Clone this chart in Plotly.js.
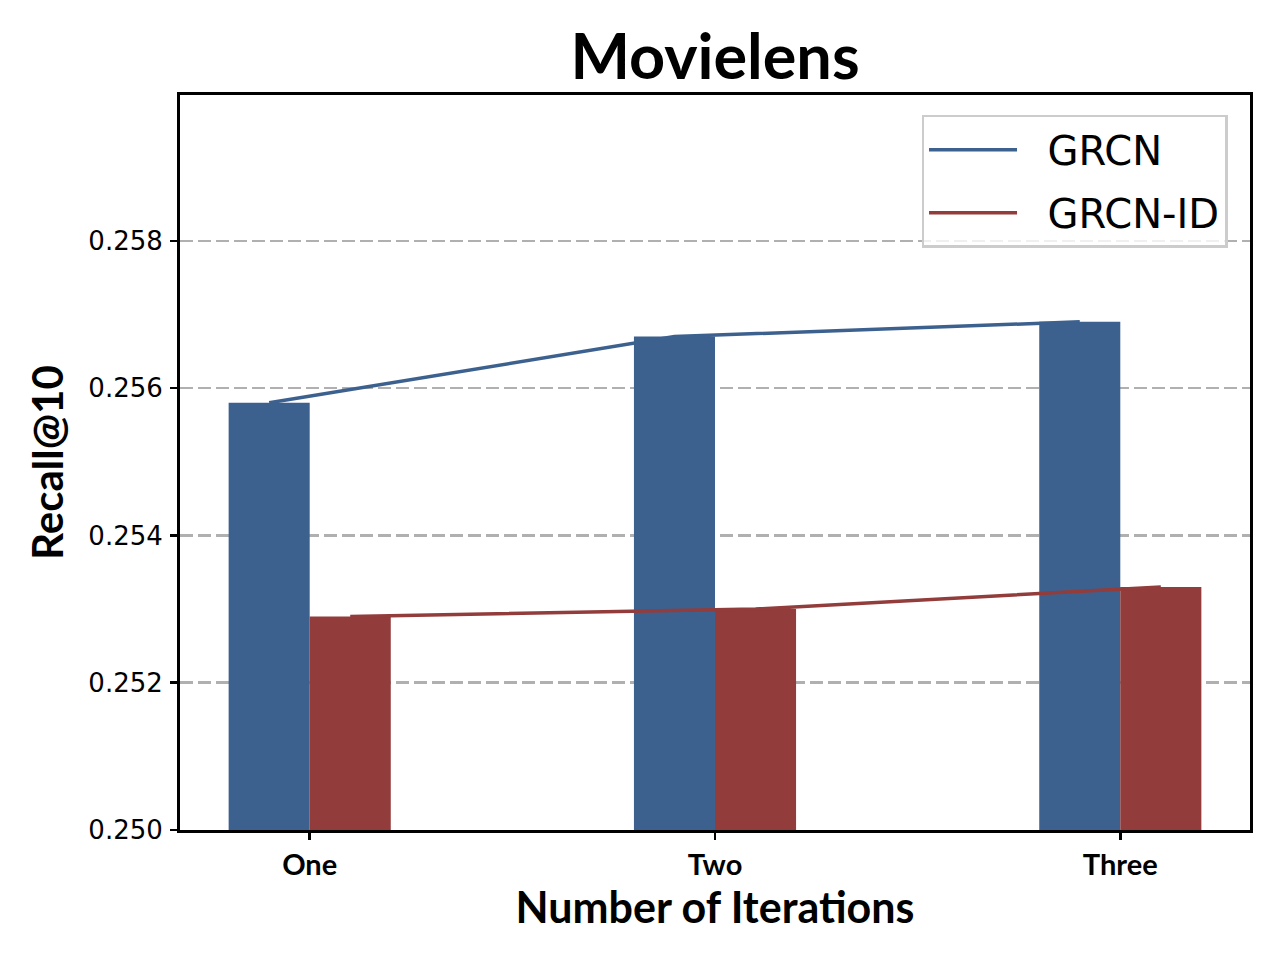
<!DOCTYPE html>
<html>
<head>
<meta charset="utf-8">
<script src="https://cdn.plot.ly/plotly-3.0.1.min.js"></script>
<style>
  html, body { margin: 0; padding: 0; background: #fff; }
  #graph { width: 1280px; height: 960px; }
</style>
</head>
<body>
<div id="graph"></div>
<script>
const iterations = ["One", "Two", "Three"]
const seriesNames = ["GRCN", "GRCN-ID"]
const grcn = [0.2558, 0.2567, 0.2569]
const grcnId = [0.2529, 0.2530, 0.2533]

const blue = "#3d618f"
const red = "#923c3b"
const boldFont = "Lato, 'Open Sans', sans-serif"
const plainFont = "'DejaVu Sans', sans-serif"
const floor = 0.25
const pad = "\u00a0\u00a0"  // gap between legend line and label

const idx = iterations.map((_, i) => i)

// bars sit either side of the tick, lines join the bar centres
const barGrcn = {
    x: idx, y: grcn.map(v => v - floor), base: floor, type: "bar",
    width: 0.2, offset: -0.2,
    marker: { color: blue, line: { width: 0 } },
    showlegend: false, hoverinfo: "skip"
}
const barId = {
    x: idx, y: grcnId.map(v => v - floor), base: floor, type: "bar",
    width: 0.2, offset: 0,
    marker: { color: red, line: { width: 0 } },
    showlegend: false, hoverinfo: "skip"
}
const lineGrcn = {
    x: idx.map(i => i - 0.1), y: grcn,
    type: "scatter", mode: "lines", name: pad + seriesNames[0],
    line: { color: blue, width: 3.5 },
    legendgroup: "a"
}
const lineId = {
    x: idx.map(i => i + 0.1), y: grcnId,
    type: "scatter", mode: "lines", name: pad + seriesNames[1],
    line: { color: red, width: 3.5 },
    legendgroup: "b"
}

const layout = {
    width: 1280, height: 960,
    margin: { l: 180, r: 30, t: 95, b: 130 },
    paper_bgcolor: "#fff", plot_bgcolor: "#fff",
    title: {
        text: "<b>Movielens</b>",
        font: { family: boldFont, size: 63, color: "#000" },
        x: 0.5, xref: "paper", y: 1 - 57 / 960, yanchor: "middle"
    },
    xaxis: {
        range: [-0.32, 2.32],
        tickvals: idx, ticktext: iterations.map(t => "<b>" + t + "</b>"),
        tickfont: { family: boldFont, size: 29, color: "#000" },
        ticks: "outside", ticklen: 7, tickwidth: 2.5, tickcolor: "#000",
        showgrid: false, zeroline: false,
        showline: true, linecolor: "#000", linewidth: 3, mirror: true,
        title: {
            text: "<b>Number of Iterations</b>",
            font: { family: boldFont, size: 43, color: "#000" },
            standoff: 14
        }
    },
    yaxis: {
        range: [floor, 0.25998],
        tick0: floor, dtick: 0.002, tickformat: ".3f",
        tickfont: { family: plainFont, size: 26, color: "#000" },
        ticks: "outside", ticklen: 7, tickwidth: 2.5, tickcolor: "#000",
        ticklabelstandoff: 2,
        showgrid: true, gridcolor: "#b0b0b0", gridwidth: 2.5, griddash: "13px,5px",
        zeroline: false,
        showline: true, linecolor: "#000", linewidth: 3, mirror: true,
        title: {
            text: "<b>Recall@10</b>",
            font: { family: boldFont, size: 42, color: "#000" },
            standoff: 12
        }
    },
    legend: {
        x: 0.979, xanchor: "right", y: 0.973, yanchor: "top",
        bgcolor: "rgba(255,255,255,0.8)", bordercolor: "#cccccc", borderwidth: 2.5,
        font: { family: plainFont, size: 40, color: "#000" },
        itemwidth: 88,
        traceorder: "grouped", tracegroupgap: 8
    },
    showlegend: true
}

Plotly.newPlot("graph", [barGrcn, barId, lineGrcn, lineId], layout, { staticPlot: true })
</script>
</body>
</html>
